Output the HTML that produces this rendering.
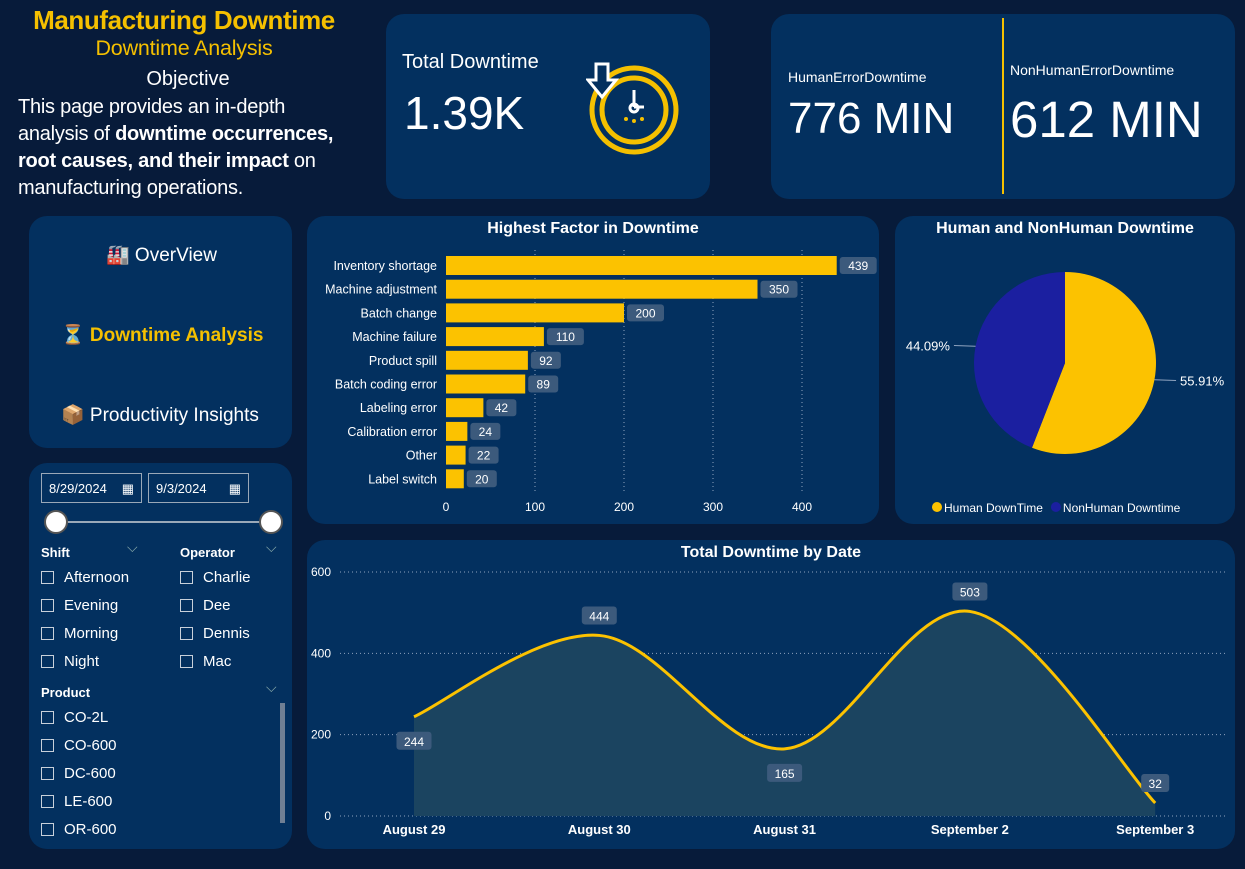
<!DOCTYPE html>
<html><head><meta charset="utf-8">
<style>
*{box-sizing:border-box;margin:0;padding:0}
body{width:1245px;height:869px;background:#071b3a;font-family:"Liberation Sans",sans-serif;color:#fff;position:relative;overflow:hidden}
.panel{position:absolute;background:#03305f;border-radius:18px}
.abs{position:absolute}
.cb{display:inline-block;width:13px;height:13px;border:1px solid #c8d0da;vertical-align:-2px;margin-right:10px}
.fl{position:absolute;font-size:15px}
.fh{position:absolute;font-size:13px;font-weight:bold}
</style></head><body>
<div class="abs" style="left:0;top:5px;width:368px;text-align:center;color:#f5c000;font-size:26px;font-weight:bold;letter-spacing:-0.4px;white-space:nowrap">Manufacturing Downtime</div>
<div class="abs" style="left:0;top:36px;width:368px;text-align:center;color:#f5c000;font-size:21.5px;letter-spacing:-0.2px">Downtime Analysis</div>
<div class="abs" style="left:0;top:68px;width:376px;text-align:center;font-size:20px">Objective</div>
<div class="abs" style="left:18px;top:94px;width:360px;font-size:20px;line-height:27px;white-space:nowrap;letter-spacing:-0.25px">This page provides an in-depth<br>analysis of <b>downtime occurrences,</b><br><b>root causes, and their impact</b> on<br>manufacturing operations.</div>

<div class="panel" style="left:386px;top:14px;width:324px;height:185px">
 <div class="abs" style="left:16px;top:37px;font-size:20px">Total Downtime</div>
 <div class="abs" style="left:18px;top:72px;font-size:46px">1.39K</div>
 <svg class="abs" style="left:200px;top:48px" width="100" height="100" viewBox="0 0 100 100">
  <circle cx="48" cy="48" r="42" fill="none" stroke="#f5c000" stroke-width="5"/>
  <circle cx="48" cy="48" r="32" fill="none" stroke="#f5c000" stroke-width="5"/>
  <line x1="48" y1="28" x2="48" y2="45" stroke="#fff" stroke-width="3"/><line x1="48" y1="45" x2="58" y2="45" stroke="#fff" stroke-width="3"/>
  <circle cx="48" cy="46" r="4" fill="none" stroke="#fff" stroke-width="3"/>
  <circle cx="40" cy="57" r="2" fill="#f5c000"/><circle cx="48" cy="59" r="2" fill="#f5c000"/><circle cx="56" cy="57" r="2" fill="#f5c000"/>
  <path d="M10 2h12v16h8l-14 17l-14-17h8z" fill="#03305f" stroke="#fff" stroke-width="3"/>
 </svg>
</div>

<div class="panel" style="left:771px;top:14px;width:464px;height:185px">
 <div class="abs" style="left:17px;top:55px;font-size:14px">HumanErrorDowntime</div>
 <div class="abs" style="left:17px;top:80px;font-size:44px">776 MIN</div>
 <div class="abs" style="left:231px;top:4px;width:2px;height:176px;background:#f5c000"></div>
 <div class="abs" style="left:239px;top:48px;font-size:14px">NonHumanErrorDowntime</div>
 <div class="abs" style="left:239px;top:76px;font-size:51px">612 MIN</div>
</div>

<div class="panel" style="left:29px;top:216px;width:263px;height:232px">
 <div class="abs" style="left:77px;top:27px;font-size:19px">🏭 OverView</div>
 <div class="abs" style="left:32px;top:107px;font-size:19px;color:#f5c000;font-weight:bold">⏳ Downtime Analysis</div>
 <div class="abs" style="left:32px;top:187px;font-size:19px">📦 Productivity Insights</div>
</div>

<div class="panel" style="left:29px;top:463px;width:263px;height:386px">
 <div class="abs" style="left:12px;top:10px;width:101px;height:30px;border:1px solid #9aa8b8;font-size:13px;padding:7px 7px">8/29/2024 <span style="float:right">▦</span></div>
 <div class="abs" style="left:119px;top:10px;width:101px;height:30px;border:1px solid #9aa8b8;font-size:13px;padding:7px 7px">9/3/2024 <span style="float:right">▦</span></div>
 <div class="abs" style="left:27px;top:58px;width:216px;height:2px;background:#9aa8b8"></div>
 <div class="abs" style="left:15px;top:47px;width:24px;height:24px;border-radius:50%;background:#fff;border:2px solid #555"></div>
 <div class="abs" style="left:230px;top:47px;width:24px;height:24px;border-radius:50%;background:#fff;border:2px solid #555"></div>
 <div class="fh" style="left:12px;top:82px">Shift</div>
 <div class="abs" style="left:98px;top:76px;color:#8aa;font-size:14px">⌵</div>
 <div class="fh" style="left:151px;top:82px">Operator</div>
 <div class="abs" style="left:237px;top:76px;color:#8aa;font-size:14px">⌵</div>
 <div class="fl" style="left:12px;top:106px"><span class="cb"></span>Afternoon</div>
 <div class="fl" style="left:12px;top:134px"><span class="cb"></span>Evening</div>
 <div class="fl" style="left:12px;top:162px"><span class="cb"></span>Morning</div>
 <div class="fl" style="left:12px;top:190px"><span class="cb"></span>Night</div>
 <div class="fl" style="left:151px;top:106px"><span class="cb"></span>Charlie</div>
 <div class="fl" style="left:151px;top:134px"><span class="cb"></span>Dee</div>
 <div class="fl" style="left:151px;top:162px"><span class="cb"></span>Dennis</div>
 <div class="fl" style="left:151px;top:190px"><span class="cb"></span>Mac</div>
 <div class="fh" style="left:12px;top:222px">Product</div>
 <div class="abs" style="left:237px;top:216px;color:#8aa;font-size:14px">⌵</div>
 <div class="fl" style="left:12px;top:246px"><span class="cb"></span>CO-2L</div>
 <div class="fl" style="left:12px;top:274px"><span class="cb"></span>CO-600</div>
 <div class="fl" style="left:12px;top:302px"><span class="cb"></span>DC-600</div>
 <div class="fl" style="left:12px;top:330px"><span class="cb"></span>LE-600</div>
 <div class="fl" style="left:12px;top:358px"><span class="cb"></span>OR-600</div>
 <div class="abs" style="left:251px;top:240px;width:5px;height:120px;background:#6f7f94"></div>
</div>

<div class="panel" style="left:307px;top:216px;width:572px;height:308px"></div>
<div class="panel" style="left:895px;top:216px;width:340px;height:308px"></div>
<div class="panel" style="left:307px;top:540px;width:928px;height:309px"></div>

<svg id="charts" class="abs" style="left:0;top:0" width="1245" height="869" font-family="Liberation Sans, sans-serif"></svg>

<script>
const barCategories=["Inventory shortage","Machine adjustment","Batch change","Machine failure","Product spill","Batch coding error","Labeling error","Calibration error","Other","Label switch"];
const barValues=[439,350,200,110,92,89,42,24,22,20];
const barTicks=[0,100,200,300,400];
const pieLabels=["Human DownTime","NonHuman Downtime"];
const pieValues=[55.91,44.09];
const lineDates=["August 29","August 30","August 31","September 2","September 3"];
const lineValues=[244,444,165,503,32];
const lineTicks=[0,200,400,600];

const svg=document.getElementById('charts');
const NS="http://www.w3.org/2000/svg";
function mk(tag,attrs,parent){const e=document.createElementNS(NS,tag);for(const k in attrs)e.setAttribute(k,attrs[k]);(parent||svg).appendChild(e);return e;}
function txt(s,attrs){const t=mk('text',attrs);t.textContent=s;return t;}

// Bar chart
let t=txt("Highest Factor in Downtime",{x:593,y:233,'text-anchor':'middle','font-size':16,'font-weight':'bold',fill:'#fff'});


const bx=v=>446+v*0.89;
const by=i=>256+i*23.7;
barTicks.forEach(v=>{
  if(v>0){const g=mk('line',{x1:bx(v),x2:bx(v),y1:250,y2:492,stroke:'#8fa3bf','stroke-dasharray':'1 3'});
  
  }
  const l=txt(v,{x:bx(v),y:511,'text-anchor':'middle','font-size':12,fill:'#fff'});
  
  
});
barCategories.forEach((c,i)=>{
  const y=by(i);
  const lab=txt(c,{x:437,y:y+14,'text-anchor':'end','font-size':12.5,fill:'#fff'});
  
  
  const r=mk('rect',{x:bx(0),y:y,width:bx(barValues[i])-bx(0),height:19,fill:'#fcc200'});
  
  
  const s=String(barValues[i]);const w=s.length*7+16;
  const bg=mk('rect',{x:bx(barValues[i])+3,y:y+1,width:w,height:17,rx:3,fill:'#3c5a7c'});
  
  
  const vl=txt(s,{x:bx(barValues[i])+3+w/2,y:y+14,'text-anchor':'middle','font-size':12,fill:'#fff'});
  
  
});

// Pie
t=txt("Human and NonHuman Downtime",{x:1065,y:233,'text-anchor':'middle','font-size':16,'font-weight':'bold',fill:'#fff'});


const cx=1065,cy=363,R=91,pieColors=['#fcc200','#1b1fa0'];
const tot=pieValues.reduce((a,b)=>a+b,0);let a0=-Math.PI/2;
pieValues.forEach((v,i)=>{
  const a1=a0+v/tot*2*Math.PI;
  const p=mk('path',{d:`M${cx},${cy}L${cx+R*Math.cos(a0)},${cy+R*Math.sin(a0)}A${R},${R} 0 ${a1-a0>Math.PI?1:0} 1 ${cx+R*Math.cos(a1)},${cy+R*Math.sin(a1)}Z`,fill:pieColors[i]});
  
  
  const am=(a0+a1)/2,ey=cy+(R+4)*Math.sin(am);
  const lx=cx+(R+22)*Math.cos(am);
  mk('line',{x1:cx+R*Math.cos(am),y1:cy+R*Math.sin(am),x2:lx,y2:ey,stroke:'#8fa3bf'});
  const lt=txt(v.toFixed(2)+'%',{x:Math.cos(am)>0?lx+4:lx-4,y:ey+5,'text-anchor':Math.cos(am)>0?'start':'end','font-size':13,fill:'#fff'});
  
  
  a0=a1;
});
let lgx=932;
pieLabels.forEach((l,i)=>{
  const c=mk('circle',{cx:lgx+5,cy:507,r:5,fill:pieColors[i]});
  
  
  const lt=txt(l,{x:lgx+12,y:512,'font-size':12,fill:'#fff'});
  
  
  lgx+=12+lt.getComputedTextLength()+8;
});

// Line chart
t=txt("Total Downtime by Date",{x:771,y:557,'text-anchor':'middle','font-size':16,'font-weight':'bold',fill:'#fff'});


const ly=v=>816-v*(244/600);
const lx=i=>414+i*185.3;
lineTicks.forEach(v=>{
  const g=mk('line',{x1:340,x2:1226,y1:ly(v),y2:ly(v),stroke:'#8fa3bf','stroke-dasharray':'1 3'});
  
  
  const l=txt(v,{x:331,y:ly(v)+4,'text-anchor':'end','font-size':12,fill:'#fff'});
  
  
});
const pts=lineValues.map((v,i)=>[lx(i),ly(v)]);
let d=`M${pts[0][0]},${pts[0][1]}`;
for(let i=0;i<pts.length-1;i++){
  const p0=pts[Math.max(0,i-1)],p1=pts[i],p2=pts[i+1],p3=pts[Math.min(pts.length-1,i+2)];
  const k=6;
  d+=`C${p1[0]+(p2[0]-p0[0])/k},${p1[1]+(p2[1]-p0[1])/k} ${p2[0]-(p3[0]-p1[0])/k},${p2[1]-(p3[1]-p1[1])/k} ${p2[0]},${p2[1]}`;
}
const area=mk('path',{d:d+`L${pts[pts.length-1][0]},${ly(0)}L${pts[0][0]},${ly(0)}Z`,fill:'#1b4460'});


const ln=mk('path',{d:d,fill:'none',stroke:'#fcc200','stroke-width':3});


const lblOff=[1,-1,1,-1,-1];
lineDates.forEach((dt,i)=>{
  const l=txt(dt,{x:lx(i),y:834,'text-anchor':'middle','font-size':13,'font-weight':'bold',fill:'#fff'});
  
  
  const s=String(lineValues[i]);const w=s.length*7+14;
  const yy=ly(lineValues[i])+(lblOff[i]>0?16:-28);
  const bg=mk('rect',{x:lx(i)-w/2,y:yy-1,width:w,height:18,rx:3,fill:'#3c5a7c'});
  
  
  const vl=txt(s,{x:lx(i),y:yy+13,'text-anchor':'middle','font-size':12,fill:'#fff'});
  
  
});
</script>
</body></html>
